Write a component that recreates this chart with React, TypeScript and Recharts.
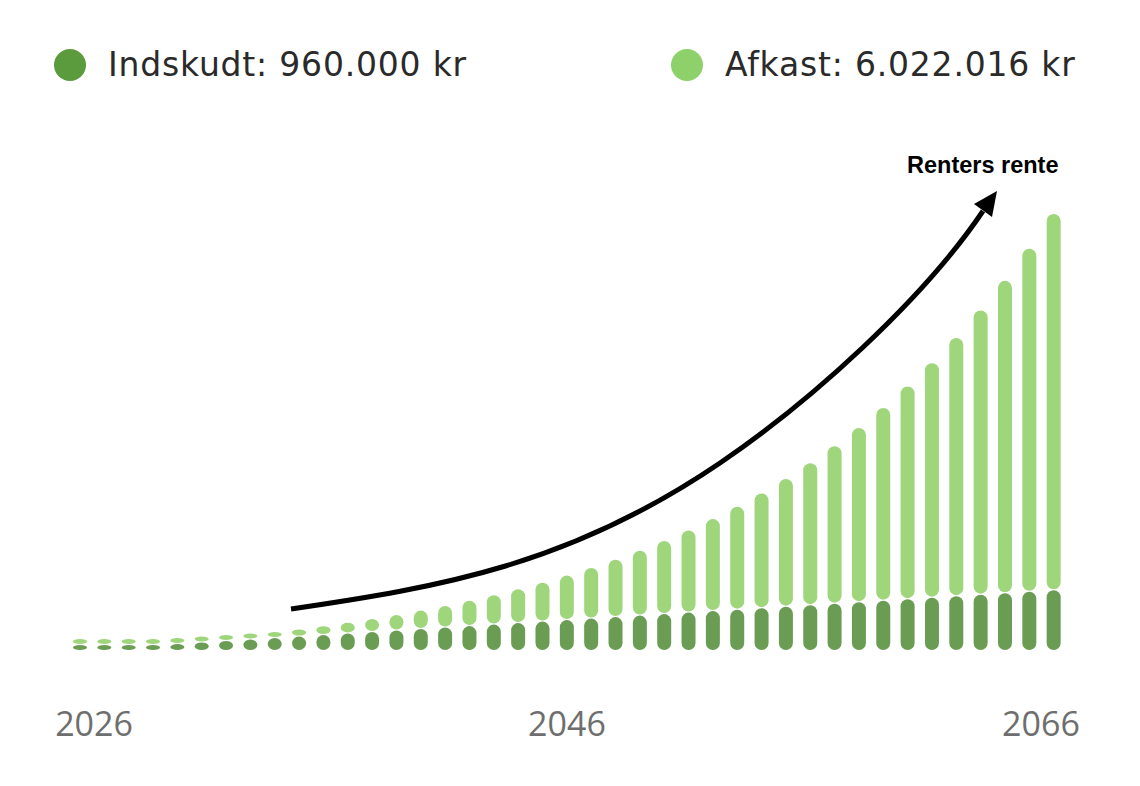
import { Bar, BarChart, XAxis, YAxis } from "recharts";

// Opsparing 2.000 kr/md i 40 år – indskud og afkast pr. år
const YEARS = [
  2026, 2027, 2028, 2029, 2030, 2031, 2032, 2033, 2034, 2035, 2036, 2037, 2038, 2039,
  2040, 2041, 2042, 2043, 2044, 2045, 2046, 2047, 2048, 2049, 2050, 2051, 2052, 2053,
  2054, 2055, 2056, 2057, 2058, 2059, 2060, 2061, 2062, 2063, 2064, 2065, 2066,
];

const INDSKUDT = [
  0, 24000, 48000, 72000, 96000, 120000, 144000, 168000, 192000, 216000, 240000,
  264000, 288000, 312000, 336000, 360000, 384000, 408000, 432000, 456000, 480000,
  504000, 528000, 552000, 576000, 600000, 624000, 648000, 672000, 696000, 720000,
  744000, 768000, 792000, 816000, 840000, 864000, 888000, 912000, 936000, 960000,
];

const AFKAST = [
  0, 900, 3900, 9100, 16700, 26900, 40000, 56200, 75800, 98900, 125900, 157200,
  193000, 233900, 280000, 332100, 390400, 455600, 528200, 608800, 698000, 796700,
  905600, 1025500, 1157300, 1302100, 1460900, 1634800, 1825200, 2033300, 2260800,
  2509100, 2780000, 3075400, 3397300, 3747900, 4129600, 4544900, 4996800, 5488100,
  6022016,
];

const TICK_YEARS = [2026, 2046, 2066];

const LEGEND = [
  { key: "indskudt", label: "Indskudt", values: INDSKUDT, dot: "#5b9a3d" },
  { key: "afkast", label: "Afkast", values: AFKAST, dot: "#8ed06a" },
];

const DARK = "#6a9d53";
const LIGHT = "#9fd67c";

const W = 1140;
const H = 786;
const MARGIN = { top: 215, right: 74, left: 68, bottom: 76 };
const X_AXIS_H = 60;
const BASE_Y = H - MARGIN.bottom - X_AXIS_H;
const MIN_H = 5;
const GAP = 1;

const data = YEARS.map((year, i) => ({
  year,
  indskudt: INDSKUDT[i],
  afkast: AFKAST[i],
}));

const kr = (v: number) =>
  String(Math.round(v)).replace(/\B(?=(\d{3})+(?!\d))/g, ".") + " kr";

function DarkPill(p: any) {
  const h = Math.max(p.height || 0, MIN_H);
  const top = p.y + (p.height || 0) - h;
  return (
    <rect
      x={p.x}
      y={top}
      width={p.width}
      height={h}
      rx={p.width / 2}
      ry={Math.min(p.width / 2, h / 2)}
      fill={DARK}
    />
  );
}

function LightPill(p: any) {
  const bottom = Math.min(p.y + (p.height || 0), BASE_Y - MIN_H) - GAP;
  const h = Math.max(p.height || 0, MIN_H);
  return (
    <rect
      x={p.x}
      y={bottom - h}
      width={p.width}
      height={h}
      rx={p.width / 2}
      ry={Math.min(p.width / 2, h / 2)}
      fill={LIGHT}
    />
  );
}

function YearTick({ x, y, payload }: any) {
  const first = payload.value === TICK_YEARS[0];
  const last = payload.value === TICK_YEARS[TICK_YEARS.length - 1];
  const anchor = first ? "start" : last ? "end" : "middle";
  const tx = first ? x - 25 : last ? x + 26 : x;
  return (
    <text
      x={tx}
      y={y}
      dy={78}
      textAnchor={anchor}
      fill="#6e6e6e"
      fontSize={34}
      fontFamily="'Open Sans', sans-serif"
    >
      {payload.value}
    </text>
  );
}

// pilen "renters rente" – to kubiske segmenter
const ARROW_PATH =
  "M291,609 C441,587 570,565 720,463 C810,402 923,300 983,211";

export default function App() {
  return (
    <div
      style={{
        position: "absolute",
        left: 0,
        top: 0,
        width: W,
        height: H,
        background: "#fff",
        overflow: "hidden",
      }}
    >
      <BarChart width={W} height={H} data={data} margin={MARGIN} barSize={14}>
        <XAxis
          dataKey="year"
          ticks={TICK_YEARS}
          interval={0}
          axisLine={false}
          tickLine={false}
          height={X_AXIS_H}
          tick={<YearTick />}
        />
        <YAxis hide domain={[0, "dataMax"]} />
        <Bar
          dataKey="indskudt"
          stackId="a"
          fill={DARK}
          shape={<DarkPill />}
          isAnimationActive={false}
        />
        <Bar
          dataKey="afkast"
          stackId="a"
          fill={LIGHT}
          shape={<LightPill />}
          isAnimationActive={false}
        />
      </BarChart>

      {/* legende */}
      {LEGEND.map((item, i) => (
        <div
          key={item.key}
          style={{
            position: "absolute",
            left: i === 0 ? 54 : 671,
            top: 45,
            height: 40,
            lineHeight: "40px",
            display: "flex",
            alignItems: "center",
            fontFamily: "'DejaVu Sans', sans-serif",
            fontSize: 33,
            letterSpacing: 0.8,
            color: "#2a2a2a",
            whiteSpace: "nowrap",
          }}
        >
          <span
            style={{
              display: "inline-block",
              width: 32,
              height: 32,
              borderRadius: "50%",
              background: item.dot,
              marginRight: 22,
            }}
          />
          {item.label}: {kr(item.values[item.values.length - 1])}
        </div>
      ))}

      {/* renters rente-pil */}
      <svg
        width={W}
        height={H}
        style={{ position: "absolute", left: 0, top: 0, pointerEvents: "none" }}
      >
        <path d={ARROW_PATH} fill="none" stroke="#000" strokeWidth={5} />
        <polygon points="997,191 974,204 992,217" fill="#000" />
        <text
          x={907}
          y={173}
          fontFamily="'Liberation Sans', Arial, sans-serif"
          fontWeight={700}
          fontSize={23.5}
          fill="#000"
        >
          Renters rente
        </text>
      </svg>
    </div>
  );
}
